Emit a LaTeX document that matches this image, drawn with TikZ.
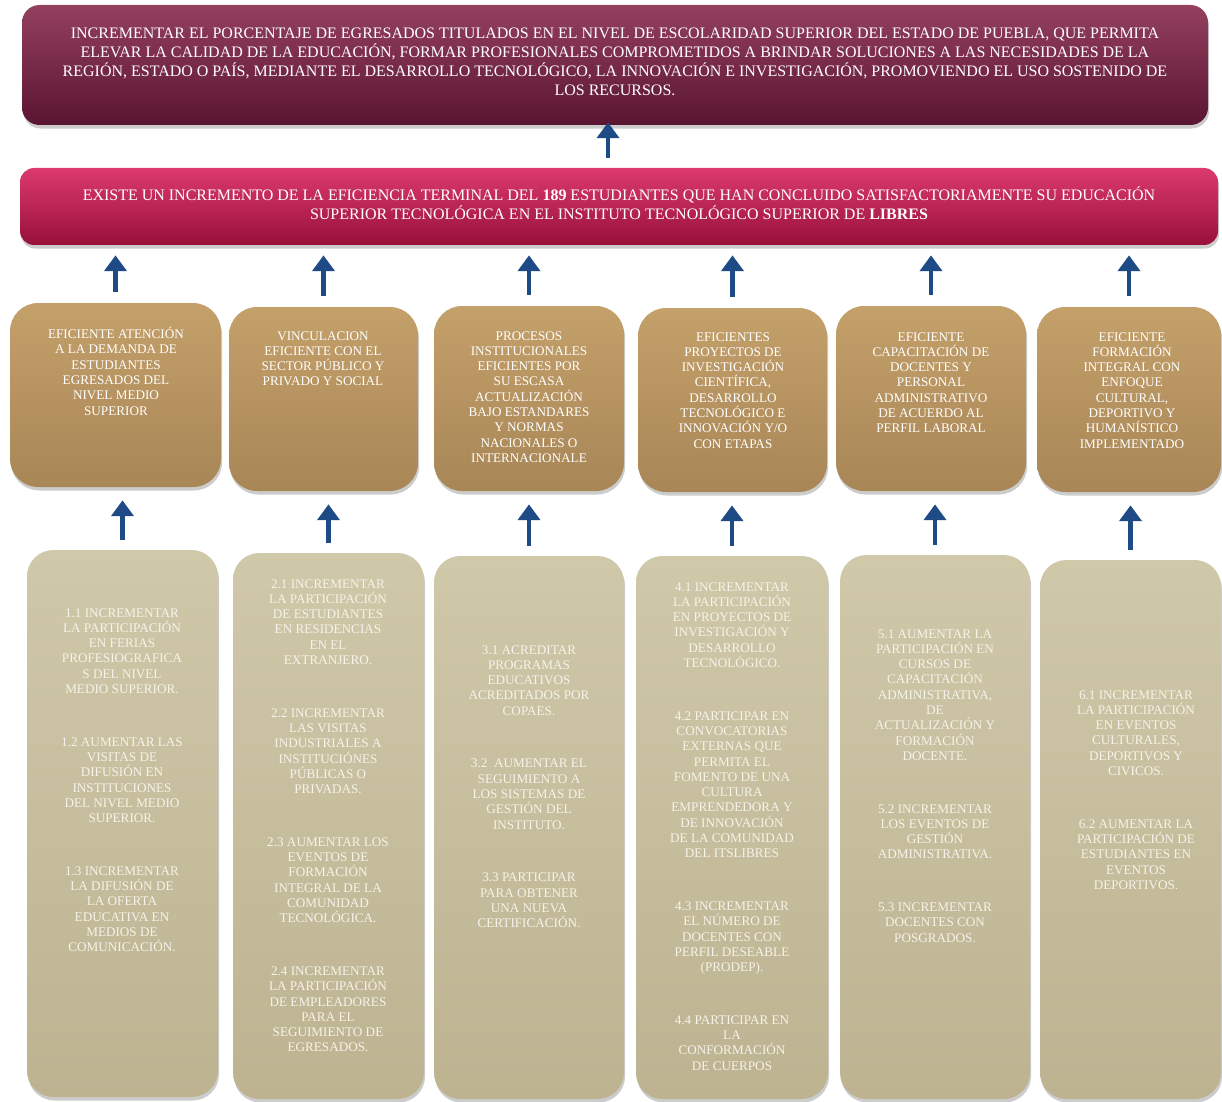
\documentclass[tikz,border=0pt]{standalone}
\usepackage{fontspec}
\setmainfont{Liberation Serif}
\usepackage{tikz}
\usetikzlibrary{arrows.meta,shapes,positioning,fit,backgrounds,shadows}
\definecolor{goaltop}{HTML}{94405F}
\definecolor{goalmid}{HTML}{6B1A36}
\definecolor{goalbot}{HTML}{5A1530}
\definecolor{purptop}{HTML}{DC3A6C}
\definecolor{purpmid}{HTML}{A6143F}
\definecolor{purpbot}{HTML}{98103A}
\definecolor{comptop}{HTML}{C4A06A}
\definecolor{compmid}{HTML}{B39060}
\definecolor{compbot}{HTML}{A88656}
\definecolor{acttop}{HTML}{CFC8A9}
\definecolor{actmid}{HTML}{C5BC9B}
\definecolor{actbot}{HTML}{BDB391}
\definecolor{arrowblue}{HTML}{1E4A86}
\definecolor{acttext}{HTML}{F6F3EA}

\begin{document}
\begin{tikzpicture}[x=0.02cm, y=-0.02cm,
    box/.style={inner sep=0pt, drop shadow={shadow xshift=0.6pt, shadow yshift=-2pt, opacity=0.4}},
    goalbox/.style={box, rounded corners=10pt, top color=goaltop, middle color=goalmid, bottom color=goalbot},
    purpbox/.style={box, rounded corners=8pt, top color=purptop, middle color=purpmid, bottom color=purpbot},
    toptext/.style={anchor=north, inner sep=0pt, text=white, align=center, font=\fontsize{9.1}{10.8}\selectfont},
    compbox/.style={box, rounded corners=16pt, top color=comptop, middle color=compmid, bottom color=compbot},
    actbox/.style={box, rounded corners=15pt, top color=acttop, middle color=actmid, bottom color=actbot},
    comptext/.style={anchor=north, inner sep=0pt, text=white, align=center, font=\fontsize{7.5}{8.7}\selectfont},
    acttext/.style={anchor=north, inner sep=0pt, text=acttext, align=center, font=\fontsize{7.5}{8.7}\selectfont},
    up/.style={-{Triangle[length=9pt,width=12.5pt]}, line width=2.6pt, draw=arrowblue}]
  \useasboundingbox (0,0) rectangle (1222,1101);

  % Goal
  \node[goalbox, fit={(22,5) (1208,125)}] (goal) {};
  \node[toptext] (goaltext) at (615,28) {INCREMENTAR EL PORCENTAJE DE EGRESADOS TITULADOS EN EL NIVEL DE ESCOLARIDAD SUPERIOR DEL ESTADO DE PUEBLA, QUE PERMITA\\
    ELEVAR LA CALIDAD DE LA EDUCACIÓN, FORMAR PROFESIONALES COMPROMETIDOS A BRINDAR SOLUCIONES A LAS NECESIDADES DE LA\\
    REGIÓN, ESTADO O PAÍS, MEDIANTE EL DESARROLLO TECNOLÓGICO, LA INNOVACIÓN E INVESTIGACIÓN, PROMOVIENDO EL USO SOSTENIDO DE\\
    LOS RECURSOS.};

  % Purpose
  \node[purpbox, fit={(20,168) (1218,245)}] (purpose) {};
  \node[toptext] (purptext) at (619,186) {EXISTE UN INCREMENTO DE LA EFICIENCIA TERMINAL DEL \textbf{189} ESTUDIANTES QUE HAN CONCLUIDO SATISFACTORIAMENTE SU EDUCACIÓN\\
    SUPERIOR TECNOLÓGICA EN EL INSTITUTO TECNOLÓGICO SUPERIOR DE \textbf{LIBRES}};

  % Components
  \node[compbox, fit={(10,303) (221,487)}] (c1) {};
  \node[compbox, fit={(229,307) (418,491)}] (c2) {};
  \node[compbox, fit={(434,306) (624,491)}] (c3) {};
  \node[compbox, fit={(638,308) (827,492)}] (c4) {};
  \node[compbox, fit={(836,306) (1026,491)}] (c5) {};
  \node[compbox, fit={(1037,307) (1221,492)}] (c6) {};

  \node[comptext] (ct1) at (116,327) {EFICIENTE ATENCIÓN\\A LA DEMANDA DE\\ESTUDIANTES\\EGRESADOS DEL\\NIVEL MEDIO\\SUPERIOR};
  \node[comptext] (ct2) at (323,331) {VINCULACION\\EFICIENTE CON EL\\SECTOR PÚBLICO Y\\PRIVADO Y SOCIAL};
  \node[comptext] (ct3) at (529,331) {PROCESOS\\INSTITUCIONALES\\EFICIENTES POR\\SU ESCASA\\ACTUALIZACIÓN\\BAJO ESTANDARES\\Y NORMAS\\NACIONALES O\\INTERNACIONALE};
  \node[comptext] (ct4) at (733,332) {EFICIENTES\\PROYECTOS DE\\INVESTIGACIÓN\\CIENTÍFICA,\\DESARROLLO\\TECNOLÓGICO E\\INNOVACIÓN Y/O\\CON ETAPAS};
  \node[comptext] (ct5) at (931,332) {EFICIENTE\\CAPACITACIÓN DE\\DOCENTES Y\\PERSONAL\\ADMINISTRATIVO\\DE ACUERDO AL\\PERFIL LABORAL};
  \node[comptext] (ct6) at (1132,332) {EFICIENTE\\FORMACIÓN\\INTEGRAL CON\\ENFOQUE\\CULTURAL,\\DEPORTIVO Y\\HUMANÍSTICO\\IMPLEMENTADO};

  % Activities
  \node[actbox, fit={(27,550) (218,1097)}] (a1) {};
  \node[actbox, fit={(233,553) (424,1099)}] (a2) {};
  \node[actbox, fit={(434,556) (624,1099)}] (a3) {};
  \node[actbox, fit={(636,556) (828,1099)}] (a4) {};
  \node[actbox, fit={(840,555) (1030,1099)}] (a5) {};
  \node[actbox, fit={(1040,560) (1221,1099)}] (a6) {};

  \node[acttext] (at1) at (122,608) {1.1 INCREMENTAR\\LA PARTICIPACIÓN\\EN FERIAS\\PROFESIOGRAFICA\\S DEL NIVEL\\MEDIO SUPERIOR.\\[21.3pt]
    1.2 AUMENTAR LAS\\VISITAS DE\\DIFUSIÓN EN\\INSTITUCIONES\\DEL NIVEL MEDIO\\SUPERIOR.\\[21.3pt]
    1.3 INCREMENTAR\\LA DIFUSIÓN DE\\LA OFERTA\\EDUCATIVA EN\\MEDIOS DE\\COMUNICACIÓN.};
  \node[acttext] (at2) at (328,579) {2.1 INCREMENTAR\\LA PARTICIPACIÓN\\DE ESTUDIANTES\\EN RESIDENCIAS\\EN EL\\EXTRANJERO.\\[21.3pt]
    2.2 INCREMENTAR\\LAS VISITAS\\INDUSTRIALES A\\INSTITUCIÓNES\\PÚBLICAS O\\PRIVADAS.\\[21.3pt]
    2.3 AUMENTAR LOS\\EVENTOS DE\\FORMACIÓN\\INTEGRAL DE LA\\COMUNIDAD\\TECNOLÓGICA.\\[21.3pt]
    2.4 INCREMENTAR\\LA PARTICIPACIÓN\\DE EMPLEADORES\\PARA EL\\SEGUIMIENTO DE\\EGRESADOS.};
  \node[acttext] (at3) at (529,645) {3.1 ACREDITAR\\PROGRAMAS\\EDUCATIVOS\\ACREDITADOS POR\\COPAES.\\[21.3pt]
    3.2 \ AUMENTAR EL\\SEGUIMIENTO A\\LOS SISTEMAS DE\\GESTIÓN DEL\\INSTITUTO.\\[21.3pt]
    3.3 PARTICIPAR\\PARA OBTENER\\UNA NUEVA\\CERTIFICACIÓN.};
  \node[acttext] (at4) at (732,582) {4.1 INCREMENTAR\\LA PARTICIPACIÓN\\EN PROYECTOS DE\\INVESTIGACIÓN Y\\DESARROLLO\\TECNOLÓGICO.\\[21.3pt]
    4.2 PARTICIPAR EN\\CONVOCATORIAS\\EXTERNAS QUE\\PERMITA EL\\FOMENTO DE UNA\\CULTURA\\EMPRENDEDORA Y\\DE INNOVACIÓN\\DE LA COMUNIDAD\\DEL ITSLIBRES\\[21.3pt]
    4.3 INCREMENTAR\\EL NÚMERO DE\\DOCENTES CON\\PERFIL DESEABLE\\(PRODEP).\\[21.3pt]
    4.4 PARTICIPAR EN\\LA\\CONFORMACIÓN\\DE CUERPOS};
  \node[acttext] (at5) at (935,629) {5.1 AUMENTAR LA\\PARTICIPACIÓN EN\\CURSOS DE\\CAPACITACIÓN\\ADMINISTRATIVA,\\DE\\ACTUALIZACIÓN Y\\FORMACIÓN\\DOCENTE.\\[21.3pt]
    5.2 INCREMENTAR\\LOS EVENTOS DE\\GESTIÓN\\ADMINISTRATIVA.\\[21.3pt]
    5.3 INCREMENTAR\\DOCENTES CON\\POSGRADOS.};
  \node[acttext] (at6) at (1136,690) {6.1 INCREMENTAR\\LA PARTICIPACIÓN\\EN EVENTOS\\CULTURALES,\\DEPORTIVOS Y\\CIVICOS.\\[21.3pt]
    6.2 AUMENTAR LA\\PARTICIPACIÓN DE\\ESTUDIANTES EN\\EVENTOS\\DEPORTIVOS.};

  % Arrows
  \draw[up, shorten <=0.2cm, shorten >=-0.06cm] ([xshift=-0.22cm]purpose.north) -- ([xshift=-0.22cm]purpose.north |- goal.south);
  \foreach \i in {1,...,6}
    \draw[up, shorten <=0.22cm, shorten >=0.2cm] (c\i.north) -- (c\i.north |- purpose.south);
  \foreach \i in {1,...,6}
    \draw[up, shorten <=0.2cm, shorten >=0.26cm] (a\i.north) -- (a\i.north |- c\i.south);
\end{tikzpicture}
\end{document}
